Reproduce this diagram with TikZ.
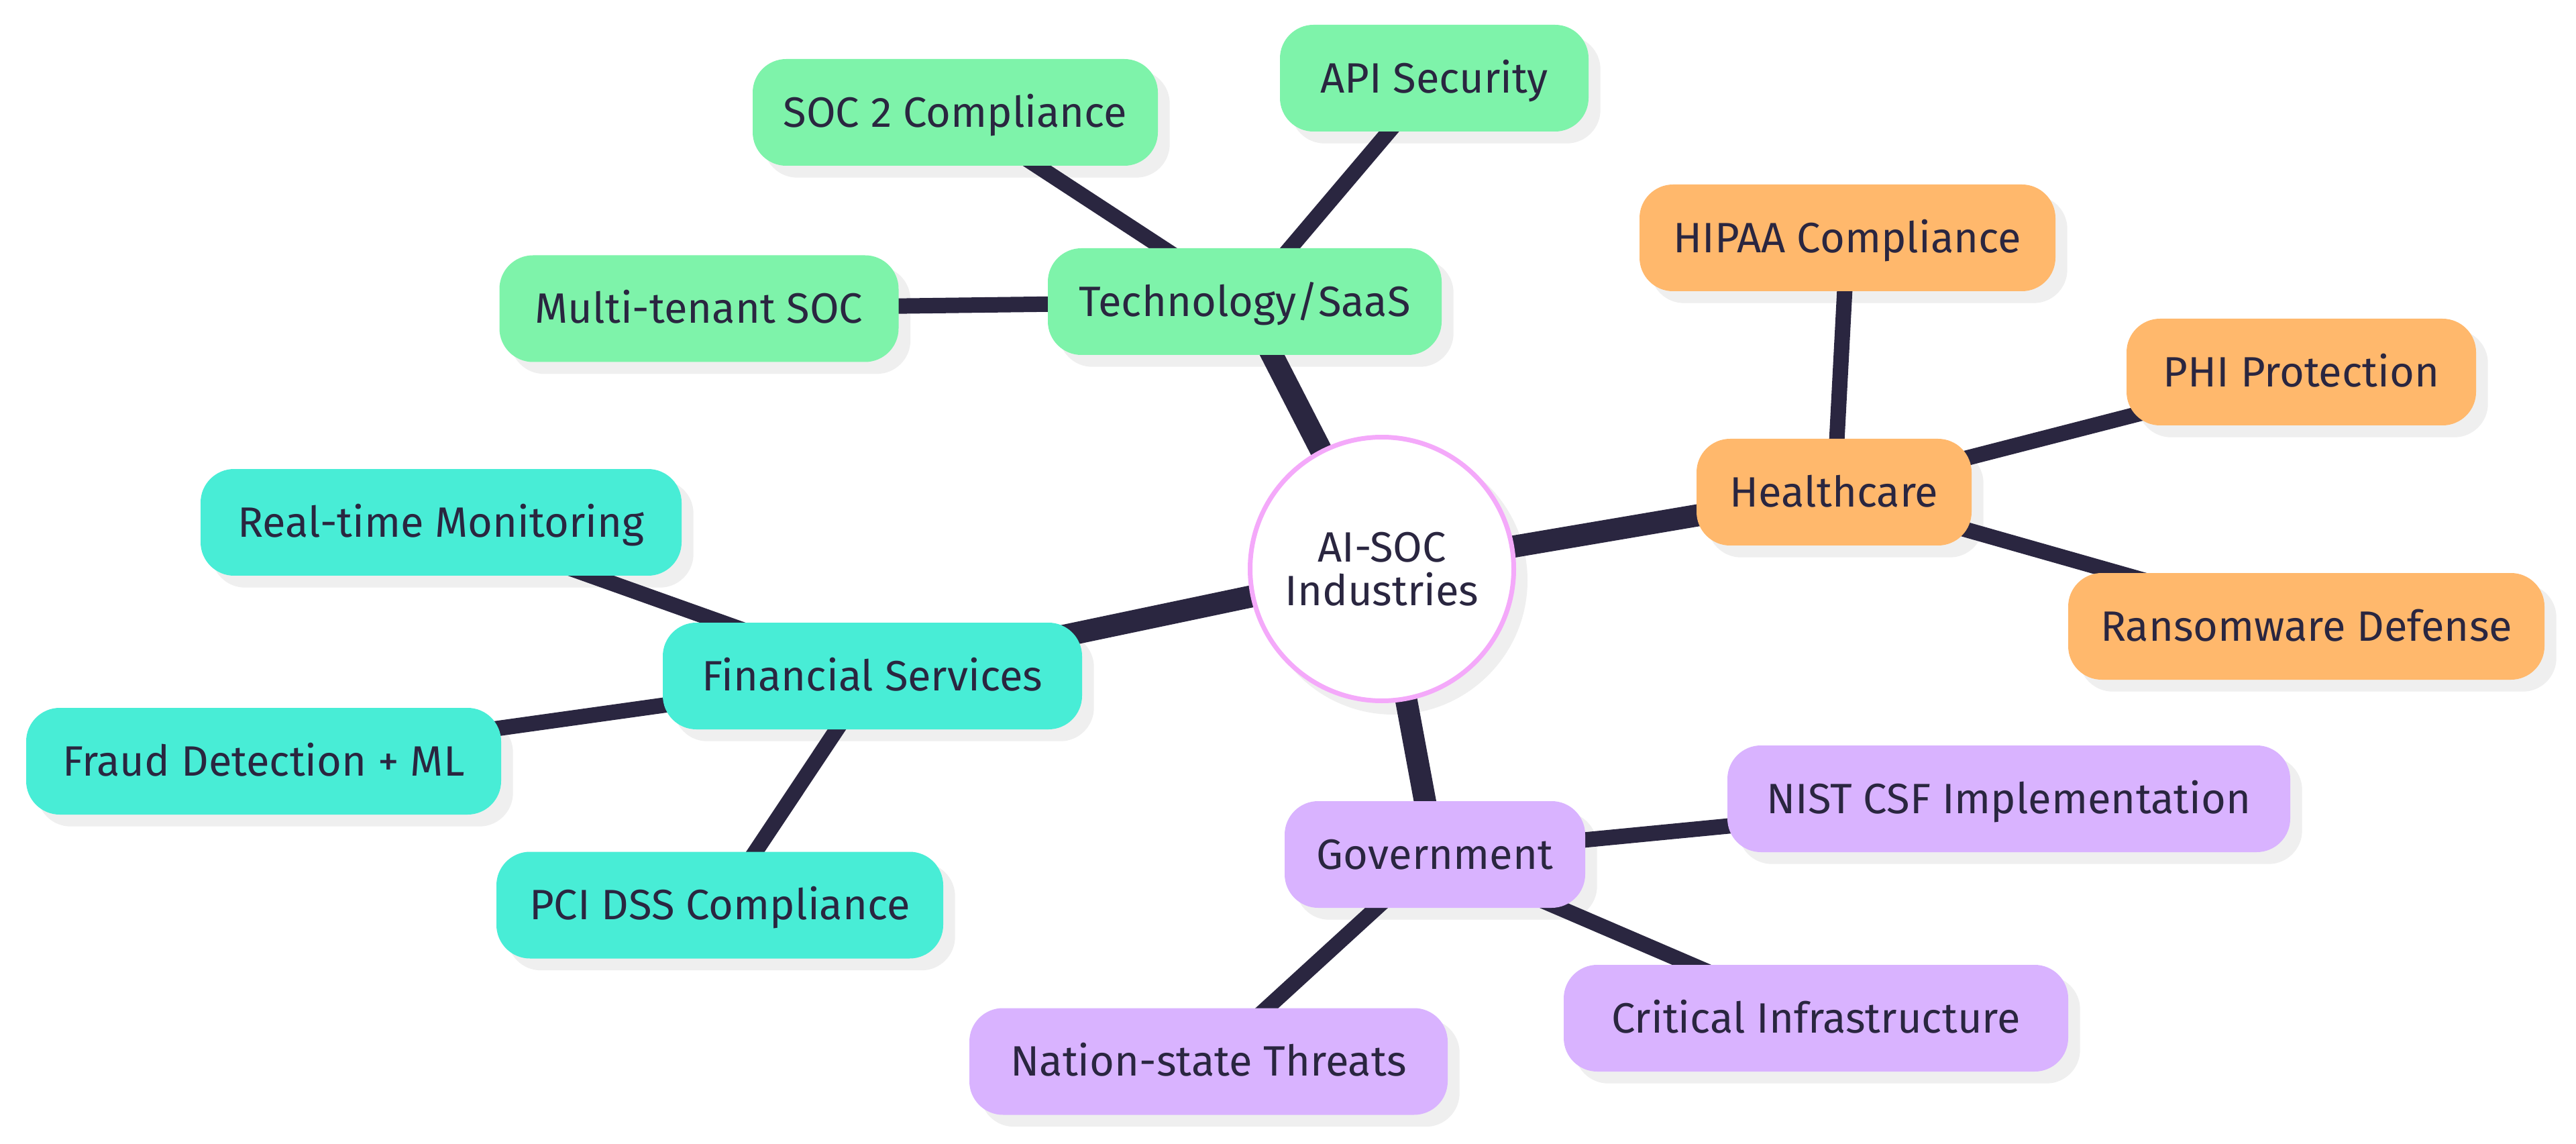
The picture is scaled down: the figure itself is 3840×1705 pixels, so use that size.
\documentclass[tikz,border=0pt]{standalone}
\usepackage{fontspec}
\setmainfont{Fira Sans}
\pgfdeclarelayer{bglayer}
\pgfdeclarelayer{shadowlayer}
\pgfdeclarelayer{edgelayer}
\pgfsetlayers{bglayer,shadowlayer,edgelayer,main}
\definecolor{navy}{HTML}{2A2640}
\definecolor{mgreen}{HTML}{7EF3AA}
\definecolor{mteal}{HTML}{48EDD6}
\definecolor{morange}{HTML}{FFB86C}
\definecolor{mlav}{HTML}{D9B3FF}
\definecolor{mpink}{HTML}{F4A9FA}
\definecolor{shadowc}{HTML}{EFEFEF}
\begin{document}
\begin{tikzpicture}[x=0.1mm,y=-0.1mm,
  leaf/.style={rectangle, rounded corners=5mm, minimum height=15.9mm, inner xsep=2mm,
    text=navy, font=\fontsize{18}{21.6}\selectfont, text height=12.4pt, text depth=0pt},
  grn/.style={leaf, fill=mgreen},
  tea/.style={leaf, fill=mteal},
  ora/.style={leaf, fill=morange},
  lav/.style={leaf, fill=mlav},
  mainedge/.style={draw=navy, line width=3.3mm},
  subedge/.style={draw=navy, line width=2.3mm},
  shadowbox/.style={fill=shadowc, rounded corners=5mm}]
\useasboundingbox (0,0) rectangle (3840,1705);
\begin{pgfonlayer}{bglayer}
\fill[white] (0,0) rectangle (3840,1705);
\end{pgfonlayer}

% center
\node[circle, fill=white, draw=mpink, line width=0.7mm, minimum size=39.3mm, inner sep=0pt,
  align=center, text=navy, font=\fontsize{18}{18.5}\selectfont] (c) at (2060,848) {AI-SOC\\Industries};

% Technology
\node[grn, minimum width=58.7mm] (tech) at (1855.5,449.5) {Technology/SaaS};
\node[grn, minimum width=60.4mm] (soc2) at (1424,167.5) {SOC 2 Compliance};
\node[grn, minimum width=46mm] (api) at (2138,116.5) {API Security};
\node[grn, minimum width=59.5mm] (multi) at (1042,460) {Multi-tenant SOC};

% Healthcare
\node[ora, minimum width=41mm] (health) at (2734,733.5) {Healthcare};
\node[ora, minimum width=62mm] (hipaa) at (2754,354.5) {HIPAA Compliance};
\node[ora, minimum width=52.1mm] (phi) at (3430.5,554.5) {PHI Protection};
\node[ora, minimum width=71mm] (ransom) at (3438,933.5) {Ransomware Defense};

% Financial
\node[tea, minimum width=62.5mm] (fin) at (1300.5,1007.5) {Financial Services};
\node[tea, minimum width=71.7mm] (realtime) at (657.5,778.5) {Real-time Monitoring};
\node[tea, minimum width=70.8mm] (fraud) at (393,1134.5) {Fraud Detection + ML};
\node[tea, minimum width=66.6mm] (pci) at (1073,1349) {PCI DSS Compliance};

% Government
\node[lav, minimum width=44.8mm] (gov) at (2139,1273.5) {Government};
\node[lav, minimum width=83.9mm] (nist) at (2994.5,1190.5) {NIST CSF Implementation};
\node[lav, minimum width=75.2mm] (crit) at (2707,1517.5) {Critical Infrastructure};
\node[lav, minimum width=71.3mm] (nation) at (1801.5,1582) {Nation-state Threats};

\begin{pgfonlayer}{edgelayer}
\draw[mainedge] (c.center) -- (tech.center);
\draw[mainedge] (c.center) -- (health.center);
\draw[mainedge] (c.center) -- (fin.center);
\draw[mainedge] (c.center) -- (gov.center);
\draw[subedge] (tech.center) -- (soc2.center);
\draw[subedge] (tech.center) -- (api.center);
\draw[subedge] (tech.center) -- (multi.center);
\draw[subedge] (health.center) -- (hipaa.center);
\draw[subedge] (health.center) -- (phi.center);
\draw[subedge] (health.center) -- (ransom.center);
\draw[subedge] (fin.center) -- (realtime.center);
\draw[subedge] (fin.center) -- (fraud.center);
\draw[subedge] (fin.center) -- (pci.center);
\draw[subedge] (gov.center) -- (nist.center);
\draw[subedge] (gov.center) -- (crit.center);
\draw[subedge] (gov.center) -- (nation.center);
\end{pgfonlayer}

\begin{pgfonlayer}{shadowlayer}
\fill[shadowc] ([shift={(17,17)}]c.center) circle[radius=20mm];
\foreach \n in {tech,soc2,api,multi,health,hipaa,phi,ransom,fin,realtime,fraud,pci,gov,nist,crit,nation}
  \fill[shadowbox] ([shift={(17,17)}]\n.south west) rectangle ([shift={(17,17)}]\n.north east);
\end{pgfonlayer}
\end{tikzpicture}
\end{document}
